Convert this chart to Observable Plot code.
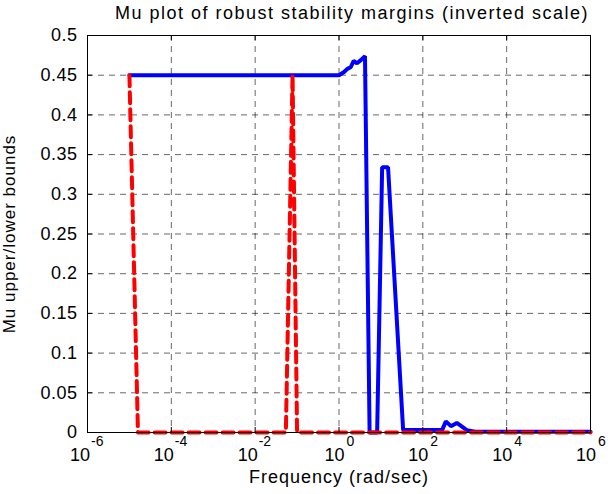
<!DOCTYPE html>
<html><head><meta charset="utf-8">
<script src="https://cdn.jsdelivr.net/npm/d3@7"></script>
<script src="https://cdn.jsdelivr.net/npm/@observablehq/plot@0.6"></script>
<style>html,body{margin:0;padding:0;background:#fff} svg{display:block}</style>
</head><body><div id="chart"></div>
<script>
const titleText = "Mu plot of robust stability margins (inverted scale)";
const xLabelText = "Frequency (rad/sec)";
const yLabelText = "Mu upper/lower bounds";
const xTicks = [1e-6, 1e-4, 1e-2, 1e0, 1e2, 1e4, 1e6];
const xTickExponents = ["-6", "-4", "-2", "0", "2", "4", "6"];
const yTicks = [0, 0.05, 0.1, 0.15, 0.2, 0.25, 0.3, 0.35, 0.4, 0.45, 0.5];
const yTickLabels = ["0", "0.05", "0.1", "0.15", "0.2", "0.25", "0.3", "0.35", "0.4", "0.45", "0.5"];

// upper bound (blue, solid)
const upperFreq = [1e-5, 1.0, 1.32, 1.58, 1.9, 2.24, 2.69, 3.31, 4.17, 5.37, 8.13, 10.7, 14.8, 33.9, 288, 355, 468, 646, 1122, 1778, 1e6];
const upperMu   = [0.45, 0.45, 0.454, 0.458, 0.460, 0.468, 0.465, 0.469, 0.474, 0, 0, 0.334, 0.334, 0.003, 0.003, 0.014, 0.008, 0.012, 0.003, 0.001, 0.001];
// lower bound (red, dashed)
const lowerFreq = [1e-5, 1.6e-5, 0.054, 0.078, 0.1, 1e6];
const lowerMu   = [0.45, 0, 0, 0.45, 0, 0];

const upper = upperFreq.map((f, i) => ({f, mu: upperMu[i]}));
const lower = lowerFreq.map((f, i) => ({f, mu: lowerMu[i]}));
const xTickTable = xTicks.map((v, i) => ({v, e: xTickExponents[i]}));
const negTicks = xTickTable.filter(d => d.e.startsWith("-"));
const posTicks = xTickTable.filter(d => !d.e.startsWith("-"));

const W = 611, H = 494, mL = 87, mR = 21, mT = 35, mB = 62;
const fw = W - mL - mR, fh = H - mT - mB, tick = 5;
const gridStyle = {stroke: "black", strokeOpacity: 0.75, strokeWidth: 0.8, strokeDasharray: "6,5"};
const baseOpts = {frameAnchor: "bottom", lineAnchor: "middle"};

const chart = Plot.plot({
  width: W, height: H,
  marginLeft: mL, marginRight: mR, marginTop: mT, marginBottom: mB,
  style: {fontFamily: "'Liberation Sans', Arial, Helvetica, sans-serif", fontSize: "17px", color: "black", background: "white", overflow: "visible"},
  x: {type: "log", domain: [1e-6, 1e6], axis: null},
  y: {domain: [0, 0.5], axis: null},
  marks: [
    Plot.ruleX(xTicks.slice(1, -1), gridStyle),
    Plot.ruleY(yTicks.slice(1, -1), gridStyle),
    Plot.line(upper, {x: "f", y: "mu", stroke: "#0000ff", strokeWidth: 4, strokeLinejoin: "miter"}),
    Plot.line(lower, {x: "f", y: "mu", stroke: "#ff0000", strokeWidth: 4, strokeDasharray: "11,6"}),
    Plot.frame({stroke: "black", strokeWidth: 1}),
    // inward ticks
    Plot.ruleX(xTicks, {insetTop: fh - tick, stroke: "black"}),
    Plot.ruleX(xTicks, {insetBottom: fh - tick, stroke: "black"}),
    Plot.ruleY(yTicks, {insetRight: fw - tick, stroke: "black"}),
    Plot.ruleY(yTicks, {insetLeft: fw - tick, stroke: "black"}),
    // tick labels
    Plot.text(yTicks, {y: d => d, frameAnchor: "left", dx: -10, textAnchor: "end", lineAnchor: "middle", text: (d, i) => yTickLabels[i], fontSize: 18}),
    Plot.text(negTicks, {...baseOpts, x: "v", dx: -7.5, dy: 23, textAnchor: "middle", text: () => "10", fontSize: 18}),
    Plot.text(negTicks, {...baseOpts, x: "v", dx: 3.5, dy: 9.5, textAnchor: "start", text: "e", fontSize: 14}),
    Plot.text(posTicks, {...baseOpts, x: "v", dx: -4.5, dy: 23, textAnchor: "middle", text: () => "10", fontSize: 18}),
    Plot.text(posTicks, {...baseOpts, x: "v", dx: 7.5, dy: 9.5, textAnchor: "start", text: "e", fontSize: 14}),
    // labels
    Plot.text([titleText], {frameAnchor: "top", dx: 13, dy: -22, textAnchor: "middle", lineAnchor: "middle", fontSize: 18}),
    Plot.text([xLabelText], {frameAnchor: "bottom", dy: 45, textAnchor: "middle", lineAnchor: "middle", fontSize: 18}),
    Plot.text([yLabelText], {frameAnchor: "left", dx: -78, rotate: -90, textAnchor: "middle", lineAnchor: "middle", fontSize: 17})
  ]
});

d3.select(chart).selectAll("text").each(function () {
  const t = this.textContent;
  if (t === titleText) this.style.letterSpacing = "1.5px";
  else if (t === yLabelText) this.style.letterSpacing = "1px";
  else if (t === xLabelText) this.style.letterSpacing = "1px";
  else if (yTickLabels.includes(t)) this.style.letterSpacing = "0.5px";
});

document.getElementById("chart").appendChild(chart);
</script>
</body></html>
